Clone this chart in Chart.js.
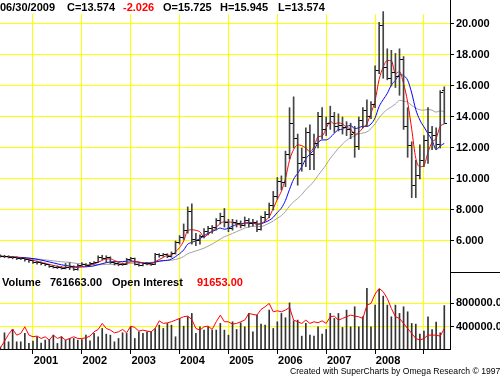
<!DOCTYPE html>
<html><head><meta charset="utf-8">
<script src="https://cdn.jsdelivr.net/npm/chart.js@4.4.0/dist/chart.umd.min.js"></script>
<style>
html,body{margin:0;padding:0;background:#fff;}
#wrap{position:relative;width:500px;height:377px;overflow:hidden;background:#fff;}
#c{position:absolute;left:0;top:0;}
.t{position:absolute;font:bold 11px 'Liberation Sans',Arial,sans-serif;color:#000;white-space:nowrap;line-height:13px;}
.r{color:#ff0000;}
.f{font-weight:normal;font-size:8.6px;line-height:10px;}
.ln{position:absolute;background:#000;}
</style></head>
<body><div id="wrap">
<canvas id="c" width="500" height="377"></canvas>
<div class="t" style="left:0;top:1px">06/30/2009</div>
<div class="t" style="left:67px;top:1px">C=13.574</div>
<div class="t r" style="left:123px;top:1px">-2.026</div>
<div class="t" style="left:163px;top:1px">O=15.725</div>
<div class="t" style="left:220px;top:1px">H=15.945</div>
<div class="t" style="left:278px;top:1px">L=13.574</div>
<div class="t" style="left:2px;top:276px">Volume</div>
<div class="t" style="left:50px;top:276px">761663.00</div>
<div class="t" style="left:112px;top:276px">Open Interest</div>
<div class="t r" style="left:197px;top:276px">91653.00</div>
<div class="t f" style="left:290px;top:366px">Created with SuperCharts by Omega Research © 1997</div>
<div class="ln" style="left:450px;top:0;width:1px;height:15px"></div>
<div class="ln" style="left:450px;top:272px;width:50px;height:1px"></div>
</div>
<script>
// first month shown: May 2000, last: June 2009 (monthly bars)
const startYear = 2000, startMonth = 5, monthCount = 110;
const months = [];
for (let k = 0; k < monthCount; k++) {
  const m = (startMonth - 1 + k) % 12 + 1, y = startYear + Math.floor((startMonth - 1 + k) / 12);
  months.push(y + '-' + String(m).padStart(2, '0'));
}
const yearLabels = ['2001','2002','2003','2004','2005','2006','2007','2008',''];
const priceTicks = [6,8,10,12,14,16,18,20];
const volumeTicks = [400000, 800000];

const opens = [5.05,5.02,4.98,4.96,4.93,4.88,4.86,4.80,4.72,4.64,
4.60,4.52,4.46,4.38,4.32,4.30,4.24,4.30,4.34,4.18,
4.42,4.48,4.42,4.55,4.62,4.92,4.90,4.94,4.62,4.52,
4.46,4.50,4.80,4.85,4.50,4.45,4.52,4.55,4.50,5.10,
5.05,5.12,5.00,5.20,5.90,6.20,6.70,7.90,6.10,6.05,
6.30,6.60,6.80,6.85,7.30,7.60,7.20,6.80,7.20,7.15,
7.00,7.30,7.10,7.20,6.75,7.50,7.70,8.30,8.90,9.85,
9.80,11.60,13.60,12.60,11.00,11.40,13.00,11.60,12.30,14.00,
13.20,13.60,14.05,13.40,13.45,13.30,13.20,13.00,12.10,13.80,
14.40,14.00,14.80,17.00,19.90,17.20,16.50,16.90,16.60,17.70,
13.40,12.15,9.60,10.20,11.20,12.50,13.00,12.80,12.20,15.725];
const highs = [5.10,5.08,5.05,5.00,4.98,4.95,4.92,4.85,4.78,4.70,
4.65,4.58,4.50,4.42,4.40,4.35,4.55,4.60,4.40,4.50,
4.60,4.55,4.62,4.68,5.05,5.08,5.05,4.98,4.70,4.60,
4.58,4.88,4.95,4.90,4.55,4.58,4.62,4.60,5.20,5.18,
5.20,5.18,5.30,6.00,6.35,7.10,8.20,8.40,6.50,6.40,
6.80,6.95,7.00,7.45,7.80,8.10,7.40,7.40,7.35,7.30,
7.55,7.45,7.40,7.30,7.60,7.90,8.45,9.20,10.10,10.20,
11.80,14.60,15.30,12.90,12.00,13.30,13.50,12.90,14.30,14.60,
14.00,14.70,14.30,14.20,14.00,13.70,13.60,13.40,14.00,14.60,
15.10,15.00,17.30,20.10,20.80,18.40,18.30,18.10,18.40,17.90,
14.60,12.40,11.20,12.20,12.80,14.60,13.40,13.30,15.70,15.945];
const lows = [4.95,4.92,4.90,4.85,4.80,4.80,4.70,4.62,4.55,4.50,
4.45,4.40,4.30,4.25,4.22,4.18,4.20,4.15,4.10,4.12,
4.38,4.35,4.40,4.50,4.60,4.80,4.60,4.55,4.45,4.40,
4.42,4.48,4.70,4.45,4.38,4.40,4.45,4.42,4.48,4.95,
5.00,4.92,4.95,5.15,5.80,6.10,6.50,5.80,5.70,5.80,
6.20,6.40,6.50,6.70,7.10,6.90,6.60,6.70,6.90,6.85,
6.95,6.90,6.95,6.60,6.70,7.30,7.50,8.00,8.70,9.30,
9.50,11.30,12.00,9.60,10.50,10.80,10.60,10.60,12.00,12.60,
12.80,13.20,13.00,13.10,12.90,12.80,12.60,11.40,11.90,13.30,
13.40,13.90,14.60,16.80,16.50,16.40,16.00,15.90,15.40,13.20,
11.40,8.80,8.80,10.00,10.80,11.00,11.90,11.90,12.00,13.574];
const closes = [5.02,4.98,4.96,4.93,4.88,4.86,4.80,4.72,4.64,4.60,
4.52,4.46,4.38,4.32,4.30,4.24,4.30,4.34,4.18,4.42,
4.48,4.42,4.55,4.62,4.92,4.90,4.94,4.62,4.52,4.46,
4.50,4.80,4.85,4.50,4.45,4.52,4.55,4.50,5.10,5.05,
5.12,5.00,5.20,5.90,6.20,6.70,7.90,6.10,6.05,6.30,
6.60,6.80,6.85,7.30,7.60,7.20,6.80,7.20,7.15,7.00,
7.30,7.10,7.20,6.75,7.50,7.70,8.30,8.90,9.85,9.80,
11.60,13.60,12.60,11.00,11.40,13.00,11.60,12.30,14.00,13.20,
13.60,14.05,13.40,13.45,13.30,13.20,12.90,12.10,13.80,14.40,
14.00,14.80,17.00,19.90,17.20,16.50,16.90,16.60,17.70,13.40,
12.15,9.60,10.20,11.20,12.50,13.00,12.80,12.20,15.60,13.574];
const volume = [50000,296000,142000,353000,142000,142000,285000,114000,154000,228000,
120000,171000,182000,256000,114000,228000,171000,199000,199000,171000,
182000,256000,159000,285000,228000,370000,273000,256000,142000,199000,
296000,285000,399000,199000,313000,285000,313000,313000,370000,427000,
370000,456000,427000,228000,541000,410000,570000,627000,285000,399000,
342000,399000,342000,342000,456000,342000,256000,484000,353000,467000,
399000,627000,313000,598000,444000,427000,684000,370000,484000,627000,
553000,808000,501000,513000,239000,456000,256000,239000,399000,273000,
353000,627000,541000,627000,387000,684000,399000,741000,399000,570000,
1054000,399000,769000,1037000,923000,769000,570000,769000,627000,741000,
655000,456000,444000,273000,325000,570000,353000,478000,296000,761663];
const openInterest = [40000,150000,270000,360000,256000,285000,399000,256000,228000,240000,
199000,228000,171000,256000,199000,228000,171000,199000,228000,199000,
199000,210000,240000,313000,353000,456000,370000,342000,296000,313000,
353000,296000,410000,387000,325000,342000,325000,313000,370000,500000,
456000,467000,485000,513000,541000,570000,581000,524000,370000,342000,
399000,410000,353000,485000,598000,485000,484000,444000,456000,484000,
513000,627000,610000,598000,695000,741000,798000,655000,672000,655000,
684000,730000,513000,484000,456000,513000,456000,484000,467000,501000,
456000,570000,581000,513000,541000,570000,598000,581000,570000,541000,
769000,798000,957000,1054000,997000,883000,712000,570000,541000,456000,
370000,285000,199000,171000,199000,256000,256000,256000,239000,370000];

// moving averages of the closes (4, 9 and 18 months)
function sma(arr, n) {
  return arr.map((v, i) => {
    const s = arr.slice(Math.max(0, i - n + 1), i + 1);
    return s.reduce((a, b) => a + b, 0) / s.length;
  });
}
const maFast = sma(closes, 4), maMid = sma(closes, 9), maSlow = sma(closes, 18);

const yearIdx = months.map((m, i) => m.endsWith('-01') ? i : -1).filter(i => i >= 0);

function tickImg(side) {
  const c = document.createElement('canvas'); c.width = 5; c.height = 1;
  const g = c.getContext('2d'); g.fillStyle = '#000';
  if (side === 'L') g.fillRect(0, 0, 2, 1); else g.fillRect(3, 0, 2, 1);
  return c;
}
const FONT = {family: "'Liberation Sans', Arial, sans-serif", size: 11, weight: 'bold'};
const YELLOW = '#ffff00';

new Chart(document.getElementById('c').getContext('2d'), {
  data: {
    datasets: [
      {type: 'bar', label: 'Range', data: months.map((m, i) => ({x: i, y: [lows[i], highs[i]]})),
        yAxisID: 'y', backgroundColor: '#444', barThickness: 1, grouped: false, order: 1, clip: false},
      {type: 'line', label: 'Open', data: months.map((m, i) => ({x: i, y: opens[i]})), yAxisID: 'y',
        showLine: false, pointStyle: tickImg('L'), pointRadius: 1, order: 0},
      {type: 'line', label: 'Close', data: months.map((m, i) => ({x: i, y: closes[i]})), yAxisID: 'y',
        showLine: false, pointStyle: tickImg('R'), pointRadius: 1, order: 0},
      {type: 'line', label: 'MA 4', data: months.map((m, i) => ({x: i, y: maFast[i]})), yAxisID: 'y',
        borderColor: '#ff0000', borderWidth: 1, pointRadius: 0, cubicInterpolationMode: 'monotone', order: 2},
      {type: 'line', label: 'MA 9', data: months.map((m, i) => ({x: i, y: maMid[i]})), yAxisID: 'y',
        borderColor: '#0000ff', borderWidth: 1, pointRadius: 0, cubicInterpolationMode: 'monotone', order: 3},
      {type: 'line', label: 'MA 18', data: months.map((m, i) => ({x: i, y: maSlow[i]})), yAxisID: 'y',
        borderColor: '#a0a0a0', borderWidth: 1, pointRadius: 0, cubicInterpolationMode: 'monotone', order: 4},
      {type: 'bar', label: 'Volume', data: months.map((m, i) => ({x: i, y: volume[i]})), yAxisID: 'yv',
        backgroundColor: '#333', barThickness: 1, grouped: false, order: 6},
      {type: 'line', label: 'Open Interest', data: months.map((m, i) => ({x: i, y: openInterest[i]})), yAxisID: 'yv',
        borderColor: '#ff0000', borderWidth: 1, pointRadius: 0, order: 5}
    ]
  },
  options: {
    responsive: false, animation: false,
    layout: {padding: {top: 14, left: 0, right: 0, bottom: 0}, autoPadding: false},
    plugins: {legend: {display: false}, tooltip: {enabled: false}, title: {display: false}},
    scales: {
      x: {type: 'linear', position: 'bottom', min: -0.1, max: 110.4, offset: false,
        afterBuildTicks: a => { a.ticks = yearIdx.map(v => ({value: v})); },
        afterFit: a => { a.height = 28; a.paddingLeft = 0; a.paddingRight = 0; },
        grid: {color: YELLOW, tickColor: '#000', tickLength: 5, lineWidth: 1, offset: false},
        border: {display: true, color: '#000'},
        ticks: {callback: (v, i) => yearLabels[i] || '', labelOffset: 13, padding: 0, maxRotation: 0, autoSkip: false,
          font: FONT, color: '#000'}},
      y: {type: 'linear', position: 'right', stack: 'panels', stackWeight: 258, weight: 0, min: 4, max: 20.645,
        afterBuildTicks: a => { a.ticks = priceTicks.map(v => ({value: v})); },
        afterFit: a => { a.width = 50; a.paddingTop = 0; a.paddingBottom = 0; },
        grid: {color: YELLOW, tickColor: '#000', tickLength: 4},
        border: {display: true, color: '#000'},
        ticks: {callback: v => Number(v).toFixed(3), padding: 2, font: FONT, color: '#000'}},
      yv: {type: 'linear', position: 'right', stack: 'panels', stackWeight: 77, weight: 1, min: 19000, max: 1335000,
        afterBuildTicks: a => { a.ticks = volumeTicks.map(v => ({value: v})); },
        afterFit: a => { a.width = 50; a.paddingTop = 0; a.paddingBottom = 0; },
        grid: {color: YELLOW, tickColor: '#000', tickLength: 4},
        border: {display: true, color: '#000'},
        ticks: {callback: v => Number(v).toFixed(2), padding: 2, font: FONT, color: '#000'}}
    }
  }
});
</script>
</body></html>
